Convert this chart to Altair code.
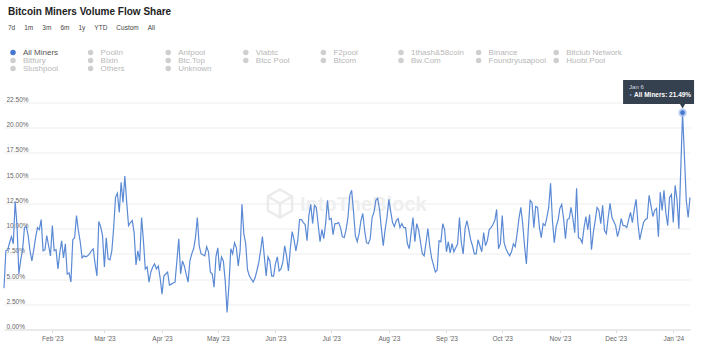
import altair as alt
import pandas as pd

TITLE = "Bitcoin Miners Volume Flow Share"
BUTTONS = ["7d", "1m", "3m", "6m", "1y", "YTD", "Custom", "All"]
MINERS = [
    "All Miners", "Poolin", "Antpool", "Viabtc", "F2pool", "1thash&58coin", "Binance", "Bitclub Network",
    "Bitfury", "Bixin", "Btc.Top", "Btcc Pool", "Btcom", "Bw.Com", "Foundryusapool", "Huobi.Pool",
    "Slushpool", "Others", "Unknown",
]
START_DATE = "2023-01-06"
# Daily "All Miners" volume flow share (%)
SHARE = [
    4.1, 7.8, 7.9, 8.6, 9.2, 8.5, 12.7, 10.3, 5.5, 6.9, 7.9, 10.1, 10.2, 9.3, 7.8, 6.8, 7.9, 9.1, 10.1, 9.9,
    10.9, 7.8, 7.9, 9.3, 8.3, 7.3, 10.3, 7.8, 7.9, 6.0, 7.6, 8.8, 7.1, 8.5, 5.5, 5.6, 4.7, 8.9, 9.1, 11.3,
    9.8, 8.7, 7.1, 7.3, 7.2, 7.3, 7.5, 7.8, 8.0, 6.5, 5.3, 10.7,
    10.2, 9.3, 6.2, 9.1, 7.0, 6.9, 7.8, 10.1, 13.1, 13.5, 11.6, 14.6, 12.6, 15.2, 12.6, 10.3, 10.6, 10.8,
    9.6, 6.4, 7.8, 6.8, 11.1, 8.8, 6.0, 6.2, 4.7, 5.7, 6.2, 6.5, 6.0, 6.3, 5.1, 3.5, 5.3, 5.5, 5.7, 4.4,
    4.5, 4.6, 4.7, 6.8, 9.0, 5.5, 6.8, 6.3, 5.5, 4.7, 6.8, 7.5, 8.0, 9.1, 11.1, 8.3,
    7.5, 7.4, 7.3, 8.2, 7.7, 5.7, 5.5, 4.2, 7.2, 8.1, 5.8, 7.2, 6.8, 4.8, 1.7, 4.4, 8.0, 7.5, 8.6, 8.1,
    6.3, 7.8, 12.4, 9.5, 8.5, 5.9, 5.3, 5.0, 4.7, 5.1, 5.8, 6.6, 7.8, 9.2, 7.3, 5.3, 7.2, 6.8, 5.3, 5.3,
    6.5, 7.2, 5.8, 6.0, 6.7, 8.3, 7.3, 5.8, 8.0, 9.7, 8.9, 7.8, 8.8, 10.9,
    10.9, 10.6, 10.4, 8.8, 11.3, 12.4, 10.5, 12.3, 12.1, 10.4, 8.7, 9.9, 9.0, 10.5, 12.8, 10.9, 11.0, 9.4,
    10.5, 10.5, 10.6, 10.1, 9.2, 9.1, 9.9, 11.1, 13.3, 13.8, 11.7, 9.3, 8.7, 9.5, 10.8, 11.5, 9.8, 8.6,
    8.5, 9.0, 11.1, 11.6, 12.8, 13.0, 11.9, 10.0, 8.3, 9.9, 11.1, 12.9, 11.7, 10.6, 10.2, 10.8, 11.0, 10.1,
    10.5, 10.1, 10.1, 8.5, 8.0, 9.6, 11.1, 8.7, 10.5, 9.9, 8.7, 7.5, 7.3, 8.6, 10.0, 8.3, 7.1, 6.4, 5.7,
    5.9, 8.8, 8.7, 10.5, 9.9, 7.7, 8.7, 7.6, 8.5, 7.7, 8.1, 8.5, 11.1, 8.6, 7.5, 10.0, 10.8, 9.9, 8.9,
    8.3, 7.5, 7.5, 8.9, 8.3, 7.7, 9.6, 8.3, 8.8, 9.9, 10.1, 10.4, 10.8, 11.9, 8.0, 8.5,
    11.3, 8.6, 8.0, 7.6, 7.3, 7.7, 8.5, 8.2, 9.5, 11.0, 12.1, 10.5, 8.3, 6.5, 9.9, 12.8, 12.6, 10.1, 12.2,
    12.1, 10.1, 9.1, 10.5, 10.3, 11.1, 12.1, 14.5, 10.8, 8.6, 10.2, 10.8, 12.0, 12.4, 11.0, 9.0, 10.9,
    11.0, 12.1, 11.0, 9.6, 14.0, 9.1, 9.0, 8.6, 10.1, 11.2, 9.9, 11.4, 7.9, 9.6, 10.8, 12.1, 11.8, 10.5,
    12.3, 9.8, 9.5, 11.1, 12.5, 11.1, 10.7, 10.3, 9.2, 9.9, 11.0, 10.3, 10.3, 10.1, 10.9, 11.6, 10.6,
    11.9, 12.9, 10.5, 8.9, 9.8, 10.6, 10.9, 11.0, 13.3, 12.3, 11.2, 11.8, 12.0, 9.2, 13.6, 11.8, 13.8,
    11.6, 10.3, 13.1, 13.4, 10.6, 14.3, 12.9, 10.0, 15.7, 21.49, 17.2, 12.8, 11.1, 13.1,
]
Y_TICKS = [0, 2.5, 5, 7.5, 10, 12.5, 15, 17.5, 20, 22.5]
WATERMARK = "IntoTheBlock"

BLUE = "#5b8ad5"
DOT_BLUE = "#4677cf"
GRAY = "#cfcfcf"
FONT = "Liberation Sans"
PLOT_W, PLOT_H = 686, 227

df = pd.DataFrame({
    "date": pd.date_range(START_DATE, periods=len(SHARE), freq="D"),
    "share": SHARE,
    "series": "All Miners",
})

base = alt.Chart(df)

x_enc = alt.X(
    "date:T",
    scale=alt.Scale(nice=False),
    axis=alt.Axis(
        format="%b '%y", tickCount={"interval": "month", "step": 1}, grid=False,
        domainColor="#dedede", tickColor="#dedede", tickSize=3, labelPadding=2.5,
        labelFontSize=6.5, labelColor="#666666", title=None,
    ),
)
y_enc = alt.Y(
    "share:Q",
    scale=alt.Scale(domain=[0, 22.5], nice=False),
    axis=alt.Axis(
        values=Y_TICKS, labelExpr="format(datum.value, '.2f') + '%'",
        labelAlign="left", labelBaseline="middle", labelPadding=-2, labelOffset=-3,
        labelOverlap=False, ticks=False, domain=False, gridColor="#ededed", labelFontSize=6.5,
        labelColor="#666666", title=None,
    ),
)

wm_df = pd.DataFrame({"t": [WATERMARK]})
watermark = alt.Chart(wm_df).mark_text(
    align="left", baseline="middle", fontSize=20, fontWeight="bold", color="#efefef", font=FONT
).encode(x=alt.value(296), y=alt.value(102), text="t:N")
logo = alt.Chart(wm_df).mark_point(
    shape="M0,-1L0.866,-0.5L0.866,0.5L0,1L-0.866,0.5L-0.866,-0.5Z M0,0L0,1 M0,0L0.866,-0.5 M0,0L-0.866,-0.5",
    size=784, filled=False, stroke="#ebebeb", strokeWidth=2.5, opacity=1,
).encode(x=alt.value(276), y=alt.value(101))

line = base.mark_line(color=BLUE, strokeWidth=1.2).encode(x=x_enc, y=y_enc)

peak = base.transform_joinaggregate(peak="max(share)").transform_filter("datum.share == datum.peak")

halo = peak.mark_point(filled=True, size=70, color="#a9c1ee", opacity=0.8).encode(x=x_enc, y=y_enc)
dot = peak.mark_point(filled=True, size=22, opacity=1).encode(
    x=x_enc, y=y_enc,
    color=alt.Color(
        "series:N",
        scale=alt.Scale(domain=MINERS, range=[DOT_BLUE] + [GRAY] * (len(MINERS) - 1)),
        legend=alt.Legend(
            title=None, orient="none", direction="horizontal", legendX=5, legendY=-54,
            columns=8, gridAlign="all",
            columnPadding=5.6, rowPadding=0, symbolType="circle", symbolSize=30,
            symbolStrokeWidth=0, labelOffset=6, labelFontSize=8, labelFont=FONT,
            labelColor=alt.ExprRef("datum.label == 'All Miners' ? '#555555' : '#b8b8b8'"),
            labelLimit=120,
        ),
    ),
)

box = peak.mark_point(
    shape="M-1,-0.338L1,-0.338L1,0.338L-1,0.338Z", size=5041, filled=True,
    color="#36414f", opacity=1, xOffset=-24, yOffset=-20.7,
).encode(x=x_enc, y=y_enc)
pointer = peak.mark_point(
    shape="triangle-down", size=30, filled=True, color="#36414f", opacity=1, yOffset=-6.5,
).encode(x=x_enc, y=y_enc)
tip_date = peak.transform_calculate(lbl="timeFormat(datum.date, '%b %-d')").mark_text(
    align="left", baseline="middle", fontSize=6, color="#d5d9e0", font=FONT, dx=-53.5, dy=-25.5,
).encode(x=x_enc, y=y_enc, text="lbl:N")
tip_bullet = peak.mark_text(
    text="\u25cf", align="left", baseline="middle", fontSize=4, color="#7aa2e8", dx=-53, dy=-17.5,
).encode(x=x_enc, y=y_enc)
tip_val = peak.transform_calculate(
    lbl="datum.series + ': ' + format(datum.share, '.2f') + '%'"
).mark_text(
    align="left", baseline="middle", fontSize=6.5, fontWeight="bold", color="#ffffff", font=FONT,
    dx=-48.5, dy=-17.5,
).encode(x=x_enc, y=y_enc, text="lbl:N")

subtitle = "\u00a0\u00a0" + ("\u00a0" * 5).join(BUTTONS)

chart = alt.layer(
    watermark, logo, line, halo, dot, box, pointer, tip_date, tip_bullet, tip_val
).properties(
    width=PLOT_W,
    height=PLOT_H,
    padding={"left": 4, "top": 102.5, "right": 11, "bottom": 26.5},
    autosize=alt.AutoSizeParams(type="none"),
    title=alt.TitleParams(
        TITLE, subtitle=subtitle, anchor="start", frame="group", dx=4,
        fontSize=10, fontWeight="bold", color="#222222", font=FONT,
        subtitleFontSize=6.5, subtitleColor="#444444", subtitleFont=FONT,
        subtitlePadding=8, offset=17,
    ),
    background="white",
).configure_axis(labelFont=FONT).configure_view(stroke=None)

chart.save("out.html", embed_options={"renderer": "svg", "actions": False})
